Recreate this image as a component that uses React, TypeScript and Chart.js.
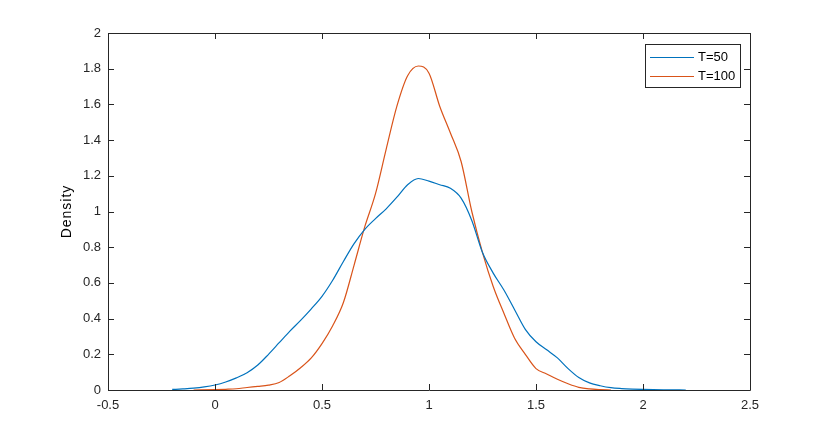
import React, { useEffect, useRef } from "react";
import Chart from "chart.js/auto";

const xs50 = [-0.2, -0.15, -0.1, -0.05, 0, 0.05, 0.1, 0.15, 0.2, 0.25, 0.3, 0.35, 0.4, 0.45, 0.5, 0.55, 0.6, 0.65, 0.7, 0.75, 0.8, 0.85, 0.9, 0.95, 1.0, 1.05, 1.1, 1.15, 1.2, 1.25, 1.3, 1.35, 1.4, 1.45, 1.5, 1.55, 1.6, 1.65, 1.7, 1.75, 1.8, 1.85, 1.9, 1.95, 2.0, 2.1, 2.2];
const density50 = [0.003, 0.006, 0.01, 0.017, 0.028, 0.045, 0.068, 0.097, 0.14, 0.2, 0.265, 0.33, 0.39, 0.455, 0.525, 0.615, 0.72, 0.82, 0.9, 0.96, 1.015, 1.08, 1.15, 1.185, 1.17, 1.15, 1.13, 1.075, 0.95, 0.77, 0.655, 0.56, 0.45, 0.34, 0.27, 0.225, 0.18, 0.12, 0.07, 0.04, 0.024, 0.013, 0.008, 0.005, 0.003, 0.001, 0];

const xs100 = [-0.1, 0, 0.05, 0.1, 0.15, 0.2, 0.25, 0.3, 0.35, 0.4, 0.45, 0.5, 0.55, 0.6, 0.65, 0.7, 0.75, 0.8, 0.85, 0.9, 0.95, 1.0, 1.05, 1.1, 1.15, 1.2, 1.25, 1.3, 1.35, 1.4, 1.45, 1.5, 1.55, 1.6, 1.65, 1.7, 1.75, 1.8, 1.85];
const density100 = [0, 0.002, 0.004, 0.007, 0.014, 0.02, 0.027, 0.042, 0.08, 0.125, 0.18, 0.26, 0.36, 0.49, 0.7, 0.915, 1.1, 1.35, 1.59, 1.76, 1.815, 1.775, 1.59, 1.44, 1.28, 1.0, 0.77, 0.58, 0.43, 0.29, 0.2, 0.12, 0.09, 0.06, 0.035, 0.015, 0.006, 0.002, 0];

const seriesLabels = ["T=50", "T=100"];
const yAxisLabel = "Density";
const xTicks = [-0.5, 0, 0.5, 1, 1.5, 2, 2.5];
const yTicks = [0, 0.2, 0.4, 0.6, 0.8, 1, 1.2, 1.4, 1.6, 1.8, 2];

const FONT = "'Liberation Sans', Arial, Helvetica, sans-serif";
const AXIS = "#262626";

const boxPlugin = {
  id: "matlabBox",
  afterDraw(chart: any) {
    const { ctx, chartArea } = chart;
    const { left, right, top, bottom } = chartArea;
    const xs = chart.scales.x;
    const ys = chart.scales.y;
    ctx.save();
    ctx.strokeStyle = AXIS;
    ctx.lineWidth = 1;
    ctx.beginPath();
    ctx.rect(Math.round(left) + 0.5, Math.round(top) + 0.5, Math.round(right - left), Math.round(bottom - top));
    ctx.stroke();
    const tl = 6;
    ctx.beginPath();
    xTicks.forEach((v) => {
      const px = Math.round(xs.getPixelForValue(v)) + 0.5;
      ctx.moveTo(px, bottom);
      ctx.lineTo(px, bottom - tl);
      ctx.moveTo(px, top);
      ctx.lineTo(px, top + tl);
    });
    yTicks.forEach((v) => {
      const py = Math.round(ys.getPixelForValue(v)) + 0.5;
      ctx.moveTo(left, py);
      ctx.lineTo(left + tl, py);
      ctx.moveTo(right, py);
      ctx.lineTo(right - tl, py);
    });
    ctx.stroke();

    // y-axis label
    ctx.save();
    ctx.translate(67, (top + bottom) / 2);
    ctx.rotate(-Math.PI / 2);
    ctx.font = `14px ${FONT}`;
    (ctx as any).letterSpacing = "1px";
    ctx.fillStyle = "#000000";
    ctx.textAlign = "center";
    ctx.textBaseline = "middle";
    ctx.fillText(yAxisLabel, 0, 0);
    ctx.restore();

    // legend
    const lx = 645, ly = 44, lw = 95, lh = 43;
    ctx.fillStyle = "#ffffff";
    ctx.fillRect(lx, ly, lw, lh);
    ctx.strokeStyle = AXIS;
    ctx.strokeRect(lx + 0.5, ly + 0.5, lw, lh);
    ctx.font = `13px ${FONT}`;
    ctx.textBaseline = "middle";
    chart.data.datasets.forEach((ds: any, i: number) => {
      const yy = Math.round(ly + 13 + i * 19) + 0.5;
      ctx.strokeStyle = ds.borderColor;
      ctx.lineWidth = 1;
      ctx.beginPath();
      ctx.moveTo(lx + 5, yy);
      ctx.lineTo(lx + 49, yy);
      ctx.stroke();
      ctx.fillStyle = "#000000";
      ctx.fillText(ds.label, lx + 53, yy);
    });
    ctx.restore();
  },
};

export default function App() {
  const ref = useRef<HTMLCanvasElement | null>(null);
  useEffect(() => {
    document.body.style.margin = "0";
    const canvas = ref.current!;
    const chart = new Chart(canvas, {
      type: "line",
      data: {
        datasets: [
          {
            label: seriesLabels[0],
            data: xs50.map((x, i) => ({ x, y: density50[i] })),
            borderColor: "#0072BD",
            borderWidth: 1.2,
            pointRadius: 0,
            cubicInterpolationMode: "monotone",
            fill: false,
          },
          {
            label: seriesLabels[1],
            data: xs100.map((x, i) => ({ x, y: density100[i] })),
            borderColor: "#D95319",
            borderWidth: 1.2,
            pointRadius: 0,
            cubicInterpolationMode: "monotone",
            fill: false,
          },
        ],
      },
      options: {
        responsive: false,
        animation: false,
        devicePixelRatio: 1,
        layout: { padding: { left: 0, right: 80, top: 33, bottom: 0 } },
        plugins: { legend: { display: false }, tooltip: { enabled: false } },
        scales: {
          x: {
            type: "linear",
            min: -0.5,
            max: 2.5,
            grid: { display: false, drawTicks: false },
            border: { display: false },
            afterBuildTicks: (s: any) => {
              s.ticks = xTicks.map((v) => ({ value: v }));
            },
            afterFit: (s: any) => {
              s.height = 46;
            },
            ticks: {
              color: AXIS,
              padding: 8,
              maxRotation: 0,
              autoSkip: false,
              font: { family: FONT, size: 13 },
              callback: (v: any) => String(Number(Number(v).toFixed(1))),
            },
          },
          y: {
            type: "linear",
            min: 0,
            max: 2,
            grid: { display: false, drawTicks: false },
            border: { display: false },
            afterBuildTicks: (s: any) => {
              s.ticks = yTicks.map((v) => ({ value: v }));
            },
            afterFit: (s: any) => {
              s.width = 108;
            },
            ticks: {
              color: AXIS,
              padding: 7,
              autoSkip: false,
              font: { family: FONT, size: 13 },
              callback: (v: any) => String(Number(Number(v).toFixed(1))),
            },
          },
        },
      },
      plugins: [boxPlugin],
    });
    return () => chart.destroy();
  }, []);
  return (
    <div style={{ position: "absolute", left: 0, top: 0, width: 830, height: 436, background: "#ffffff" }}>
      <canvas ref={ref} width={830} height={436} style={{ width: 830, height: 436, display: "block" }} />
    </div>
  );
}
